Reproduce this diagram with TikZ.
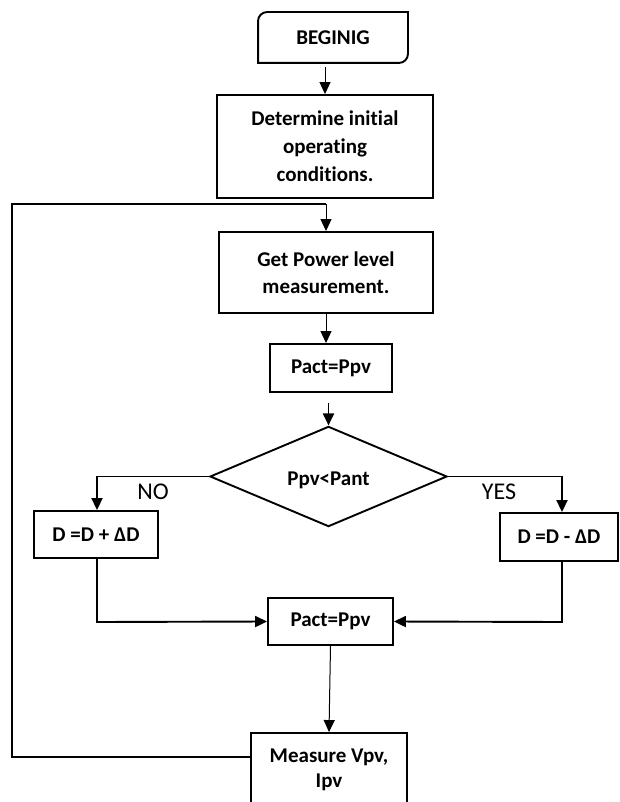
\documentclass[tikz,border=0pt]{standalone}
\usepackage{fontspec}
\setmainfont{Carlito}[Ligatures={NoCommon}]
\usetikzlibrary{arrows.meta,shapes.geometric}
\begin{document}
\begin{tikzpicture}[x=1pt,y=-1pt,
  box/.style={draw, line width=1.9pt, inner sep=0pt, font=\bfseries\fontsize{21}{28}\selectfont, align=center},
  thinarrow/.style={line width=1pt, -{Triangle[width=11pt,length=12pt]}},
  thickarrow/.style={line width=1.9pt, -{Triangle[width=11pt,length=12pt]}},
  thickline/.style={line width=1.9pt},
  lbl/.style={font=\fontsize{24}{28}\selectfont, inner sep=0pt}]
\useasboundingbox (0,0) rectangle (619,802);
\clip (0,0) rectangle (619,802);
% nodes
\node[box, draw=none, minimum width=148pt, minimum height=49pt] (beg) at (333,37.5) {BEGINIG};
\draw[line width=1.9pt] (beg.north east) -- ([xshift=9pt]beg.north west) to[out=180,in=90] ([yshift=-9pt]beg.north west) -- (beg.south west) -- ([xshift=-9pt]beg.south east) to[out=0,in=-90] ([yshift=9pt]beg.south east) -- cycle;
\node[box, minimum width=216pt, minimum height=103pt] (det) at (325,146.5) {Determine initial\\operating\\conditions.};
\node[box, minimum width=214pt, minimum height=81pt, font=\bfseries\fontsize{21}{27}\selectfont] (get) at (326,272.5) {Get Power level\\measurement.};
\node[box, minimum width=122pt, minimum height=48pt] (pa1) at (331,368) {Pact=Ppv};
\node[box, diamond, minimum width=237pt, minimum height=91pt, text height=18pt, text depth=0pt] (dia) at (328.5,476.5) {Ppv<Pant};
\node[box, minimum width=124pt, minimum height=47pt] (dp) at (96,534.5) {D =D + ΔD};
\node[box, minimum width=118pt, minimum height=48pt] (dm) at (559,537) {D =D - ΔD};
\node[box, minimum width=125pt, minimum height=47pt] (pa2) at (330.5,621.5) {Pact=Ppv};
\node[box, minimum width=156pt, minimum height=73pt, font=\bfseries\fontsize{21}{25}\selectfont] (meas) at (329,769.5) {Measure Vpv,\\Ipv};
\node[lbl] (no) at (153,492) {NO};
\node[lbl] (yes) at (499,492) {YES};
% coordinates
\coordinate (fb1) at (12,757);
\coordinate (fb2) at (12,204);
\coordinate (fb3) at (326,204);
\coordinate (nl) at (97,476.5);
\coordinate (yr) at (562,476.5);
\coordinate (ml) at (97,622);
\coordinate (mr) at (562,622);
% connectors
\draw[thinarrow] ([yshift=-4pt]beg.south -| det.north) -- (det.north);
\draw[thickline] ([yshift=12.5pt]meas.west) -- (fb1) -- (fb2) -- (fb3);
\draw[thinarrow] (fb3) -- (get.north);
\draw[thinarrow] (get.south) -- (get.south |- pa1.north);
\draw[thickarrow] ([yshift=-10pt]pa1.south -| dia.north) -- (dia.north);
\draw[thickarrow] (dia.west) -- (nl) -- (nl |- dp.north);
\draw[thickarrow] (dia.east) -- (yr) -- (yr |- dm.north);
\draw[thickarrow] (ml |- dp.south) -- (ml) -- (pa2.west);
\draw[thickarrow] (mr |- dm.south) -- (mr) -- (pa2.east);
\draw[thinarrow] (pa2.south) -- (meas.north);
\end{tikzpicture}
\end{document}
